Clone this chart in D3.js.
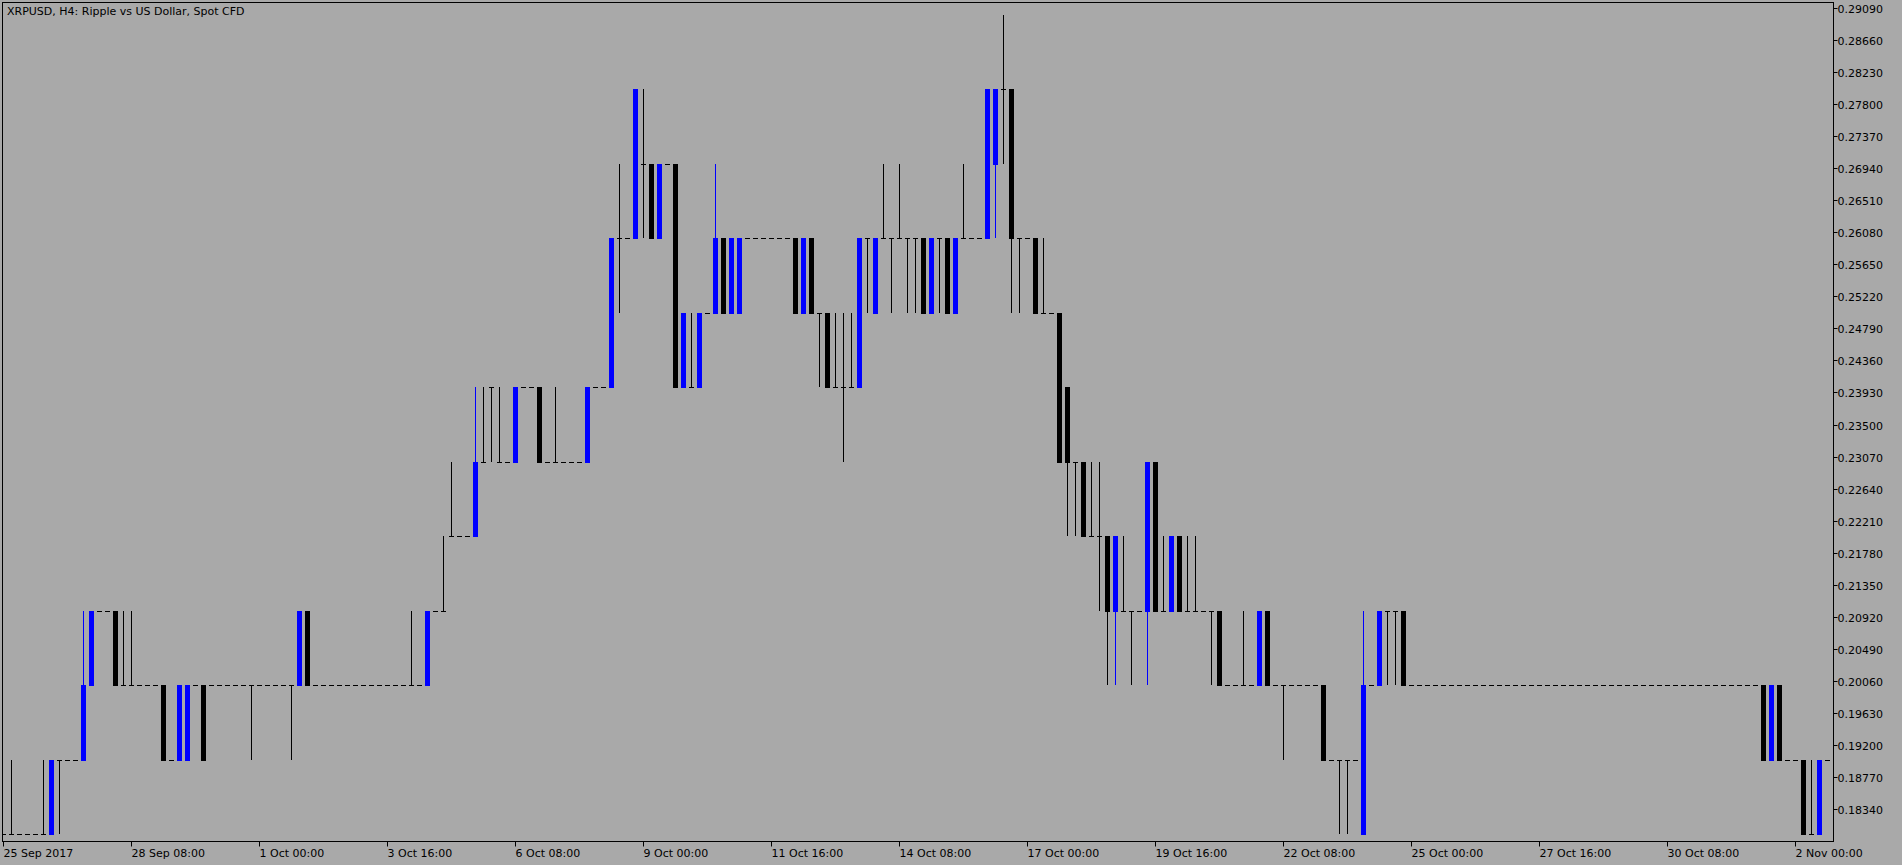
<!DOCTYPE html>
<html><head><meta charset="utf-8">
<script src="https://cdn.jsdelivr.net/npm/d3@7"></script>
<style>html,body{margin:0;padding:0;background:#a9a9a9;overflow:hidden}</style>
</head><body>
<svg id="c" width="1902" height="865"></svg>
<script>
const title = "XRPUSD, H4:  Ripple vs US Dollar, Spot CFD";
const xLabels = ["25 Sep 2017","28 Sep 08:00","1 Oct 00:00","3 Oct 16:00","6 Oct 08:00","9 Oct 00:00","11 Oct 16:00","14 Oct 08:00","17 Oct 00:00","19 Oct 16:00","22 Oct 08:00","25 Oct 00:00","27 Oct 16:00","30 Oct 08:00","2 Nov 00:00"];
const yTicks = [0.29090,0.28660,0.28230,0.27800,0.27370,0.26940,0.26510,0.26080,0.25650,0.25220,0.24790,0.24360,0.23930,0.23500,0.23070,0.22640,0.22210,0.21780,0.21350,0.20920,0.20490,0.20060,0.19630,0.19200,0.18770,0.18340];
// prices in hundredths of a dollar (0.01)
const openC = [18,18,18,18,18,18,18,19,19,19, 19,20,21,21,21,20,20,20,20,20, 20,19,19,19,20,20,20,20,20,20, 20,20,20,20,20,20,20,20,21,20,
 20,20,20,20,20,20,20,20,20,20, 20,20,20,20,21,21,22,22,22,22, 23,24,23,23,23,24,24,24,23,23, 23,23,23,23,24,24,24,26,26,26,
 27,27,26,27,27,24,24,24,25,25, 26,25,25,26,26,26,26,26,26,26, 25,26,25,25,24,24,24,24,26,25, 26,26,26,26,26,26,25,26,26,25,
 26,26,26,26,27,28,28,26,26,26, 25,25,25,24,23,23,22,22,22,21, 21,21,21,21,23,21,21,22,21,21, 21,21,21,20,20,20,20,20,21,20,
 20,20,20,20,20,20,19,19,19,19, 18,20,20,21,21,21,20,20,20,20, 20,20,20,20,20,20,20,20,20,20, 20,20,20,20,20,20,20,20,20,20,
 20,20,20,20,20,20,20,20,20,20, 20,20,20,20,20,20,20,20,20,20, 20,19,20,19,19,19,18,18,19];
const highC = [18,19,18,18,18,19,19,19,19,19, 21,21,21,21,21,21,21,20,20,20, 20,19,20,20,20,20,20,20,20,20, 20,20,20,20,20,20,20,21,21,20,
 20,20,20,20,20,20,20,20,20,20, 20,21,20,21,21,22,23,22,22,24, 24,24,24,23,24,24,24,24,23,24, 23,23,23,24,24,24,26,27,26,28,
 28,27,27,27,27,25,25,25,25,27, 26,26,26,26,26,26,26,26,26,26, 26,26,25,25,25,25,25,26,26,26, 27,26,27,26,26,26,26,26,26,26,
 27,26,26,28,28,29,28,26,26,26, 26,25,25,24,23,23,23,23,22,22, 22,21,21,23,23,22,22,22,22,22, 21,21,21,20,20,21,20,21,21,20,
 20,20,20,20,20,20,19,19,19,19, 21,20,21,21,21,21,20,20,20,20, 20,20,20,20,20,20,20,20,20,20, 20,20,20,20,20,20,20,20,20,20,
 20,20,20,20,20,20,20,20,20,20, 20,20,20,20,20,20,20,20,20,20, 20,20,20,19,19,19,19,19,19];
const lowC = [18,18,18,18,18,18,18,18,19,19, 19,20,21,21,20,20,20,20,20,20, 19,19,19,19,20,19,20,20,20,20, 20,19,20,20,20,20,19,20,20,20,
 20,20,20,20,20,20,20,20,20,20, 20,20,20,20,21,21,22,22,22,22, 23,23,23,23,23,24,24,23,23,23, 23,23,23,23,24,24,24,25,26,26,
 26,26,26,27,24,24,24,24,25,25, 25,25,25,26,26,26,26,26,26,25, 25,25,24,24,24,23,24,24,25,25, 26,25,26,25,25,25,25,25,25,25,
 26,26,26,26,26,27,25,25,26,25, 25,25,23,22,22,22,22,21,20,20, 21,20,21,20,21,21,21,21,21,21, 21,20,20,20,20,20,20,20,20,20,
 19,20,20,20,20,19,19,18,18,19, 18,20,20,20,20,20,20,20,20,20, 20,20,20,20,20,20,20,20,20,20, 20,20,20,20,20,20,20,20,20,20,
 20,20,20,20,20,20,20,20,20,20, 20,20,20,20,20,20,20,20,20,20, 19,19,19,19,19,18,18,18,19];
const closeC = [18,18,18,18,18,18,19,19,19,19, 20,21,21,21,20,20,20,20,20,20, 19,19,20,20,20,19,20,20,20,20, 20,20,20,20,20,20,20,21,20,20,
 20,20,20,20,20,20,20,20,20,20, 20,20,20,21,21,21,22,22,22,23, 23,24,23,23,24,24,24,23,23,23, 23,23,23,24,24,24,26,26,26,28,
 27,26,27,27,24,25,24,25,25,26, 25,26,26,26,26,26,26,26,26,25, 26,25,25,24,24,24,24,26,26,26, 26,26,26,26,26,25,26,26,25,26,
 26,26,26,28,28,28,26,26,26,25, 25,25,23,23,23,22,22,22,21,22, 21,21,21,23,21,21,22,21,21,21, 21,21,20,20,20,20,20,21,20,20,
 20,20,20,20,20,19,19,19,19,19, 20,20,21,21,21,20,20,20,20,20, 20,20,20,20,20,20,20,20,20,20, 20,20,20,20,20,20,20,20,20,20,
 20,20,20,20,20,20,20,20,20,20, 20,20,20,20,20,20,20,20,20,20, 19,20,19,19,19,18,18,19,19];

const bars = openC.map((o,i)=>({i, o:o/100, h:highC[i]/100, l:lowC[i]/100, c:closeC[i]/100}));

const svg = d3.select("#c");
const L=2.5, T=2.5, R=1833.5, B=841.5;
const x = d3.scaleLinear().domain([0,16]).range([2.7,130.7]);
const y = d3.scaleLinear().domain([0.1834,0.2909]).range([809,8]);

svg.append("rect").attr("x",0).attr("y",0).attr("width",1902).attr("height",865).attr("fill","#a9a9a9");
const g = svg.append("g");
const clip = svg.append("clipPath").attr("id","cp").append("rect").attr("x",L).attr("y",T).attr("width",R-L).attr("height",B-T);
g.attr("clip-path","url(#cp)");

const px = v=>Math.round(x(v))+0.5;
bars.forEach(b=>{
  const cx = px(b.i);
  if (b.o===b.c){
    if (b.h>b.l) g.append("line").attr("x1",cx).attr("x2",cx).attr("y1",Math.round(y(b.h))).attr("y2",Math.round(y(b.l))).attr("stroke","#000").attr("stroke-width",1);
    const yy=Math.round(y(b.o))+0.5;
    g.append("line").attr("x1",cx-2.5).attr("x2",cx+2.5).attr("y1",yy).attr("y2",yy).attr("stroke","#000").attr("stroke-width",1);
  } else {
    const col = b.c>b.o ? "#0000ff" : "#000000";
    if (b.h>Math.max(b.o,b.c) || b.l<Math.min(b.o,b.c))
      g.append("line").attr("x1",cx).attr("x2",cx).attr("y1",Math.round(y(b.h))).attr("y2",Math.round(y(b.l))).attr("stroke",col).attr("stroke-width",1);
    const y1=Math.round(y(Math.max(b.o,b.c))), y2=Math.round(y(Math.min(b.o,b.c)));
    g.append("rect").attr("x",cx-2.5).attr("y",y1).attr("width",5).attr("height",y2-y1+1).attr("fill",col);
  }
});

// frame
svg.append("rect").attr("x",L).attr("y",T).attr("width",R-L).attr("height",B-T).attr("fill","none").attr("stroke","#000").attr("stroke-width",1);

const font="DejaVu Sans";
// y axis
yTicks.forEach(v=>{
  const yy=Math.round(y(v))+0.5;
  svg.append("line").attr("x1",R).attr("x2",R+4).attr("y1",yy).attr("y2",yy).attr("stroke","#000");
  svg.append("text").attr("x",R+4).attr("y",yy+4).attr("font-family",font).attr("font-size",11).attr("fill","#000").text(v.toFixed(5));
});
// x axis
xLabels.forEach((t,j)=>{
  const xx=px(j*16);
  svg.append("line").attr("x1",xx).attr("x2",xx).attr("y1",B).attr("y2",B+5).attr("stroke","#000");
  svg.append("text").attr("x",xx).attr("y",857).attr("font-family",font).attr("font-size",11).attr("fill","#000").text(t);
});
svg.append("text").attr("x",7).attr("y",15).attr("font-family",font).attr("font-size",11).attr("fill","#000").text(title);
</script>
</body></html>
